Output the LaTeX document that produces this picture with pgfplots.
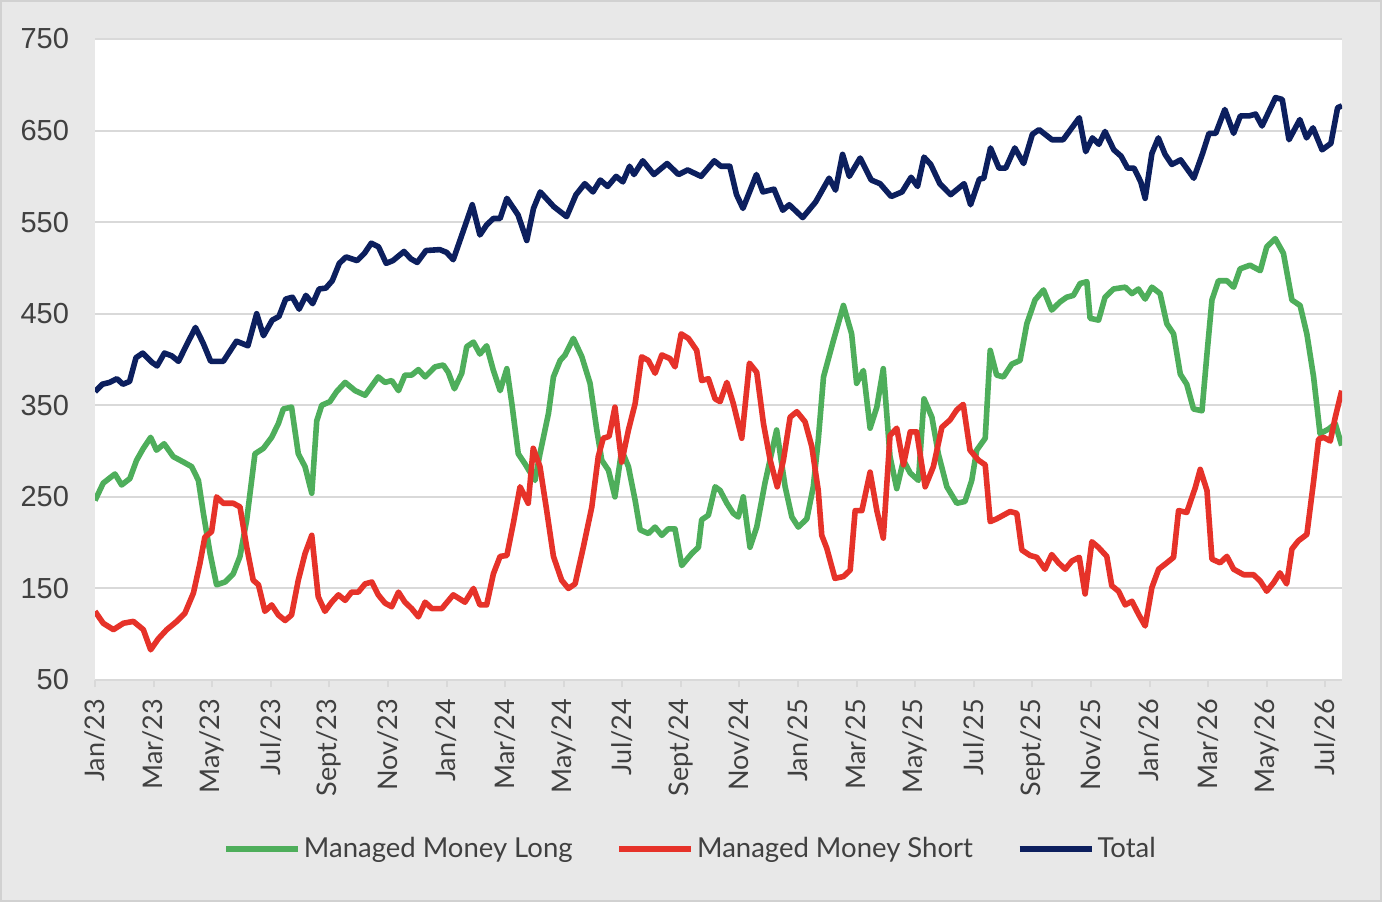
\documentclass[border=0pt]{standalone}
\usepackage{pgfplots}
\usepackage{pgfplotstable}
\pgfplotsset{compat=1.18}
\usepackage{fontspec}
\setmainfont{Lato}
\newfontfamily\arialf{Liberation Sans}
\definecolor{mmlong}{HTML}{4EAE5B}
\definecolor{mmshort}{HTML}{E63229}
\definecolor{mmtotal}{HTML}{0C1F5E}
\definecolor{bgray}{HTML}{E8E8E8}
\definecolor{gridg}{HTML}{D9D9D9}
\definecolor{txt}{HTML}{404040}

\pgfplotstableread{
m v
0 365
0.25 373
0.5 375
0.75 379
0.95 373
1.18 376
1.4 402
1.63 407
1.94 397
2.12 393
2.37 407
2.62 404
2.85 398
3.16 418
3.43 435
3.69 418
3.95 398
4.38 398
4.83 420
5.22 415
5.52 450
5.75 426
6.05 443
6.28 447
6.51 466
6.74 468
6.97 455
7.2 470
7.43 461
7.65 477
7.88 478
8.1 486
8.34 505
8.57 512
8.95 508
9.2 516
9.43 527
9.68 523
9.94 505
10.17 508
10.55 518
10.78 510
11.0 506
11.3 519
11.77 520
12.0 517
12.23 509
12.6 543
12.88 569
13.14 536
13.37 547
13.6 554
13.83 554
14.06 576
14.44 558
14.74 530
14.97 565
15.2 583
15.66 567
16.1 556
16.42 580
16.72 592
17.0 583
17.25 596
17.5 589
17.79 600
18.02 594
18.25 611
18.4 602
18.7 617
19.08 602
19.53 614
19.92 602
20.23 607
20.69 600
21.14 617
21.37 611
21.67 611
21.9 580
22.12 565
22.58 602
22.8 583
23.18 586
23.48 563
23.7 569
24.16 555
24.6 572
25.06 598
25.28 585
25.52 624
25.75 600
26.12 620
26.5 596
26.8 592
27.18 578
27.55 583
27.86 599
28.08 589
28.3 621
28.53 613
28.84 592
29.21 580
29.67 592
29.89 569
30.19 597
30.34 598
30.57 631
30.86 609
31.09 609
31.4 631
31.7 614
32.0 646
32.23 651
32.67 640
33.05 640
33.6 664
33.82 627
34.05 642
34.27 635
34.48 649
34.78 629
35.03 622
35.25 609
35.47 609
35.7 594
35.85 576
36.08 625
36.3 642
36.53 624
36.76 613
37.06 618
37.51 598
37.81 625
38.03 647
38.26 647
38.57 673
38.87 647
39.1 666
39.4 666
39.62 668
39.84 655
40.3 686
40.53 684
40.76 640
41.13 662
41.36 642
41.58 653
41.89 629
42.19 636
42.42 675
42.57 677
}\totaldata

\pgfplotstableread{
m v
0 246
0.28 265
0.68 275
0.91 263
1.19 270
1.42 290
1.65 303
1.9 315
2.1 301
2.36 308
2.67 294
3.02 288
3.3 283
3.53 268
3.7 232
3.93 188
4.15 154
4.44 157
4.72 166
4.95 185
5.18 225
5.46 297
5.75 303
6.03 315
6.26 330
6.43 346
6.71 348
6.94 297
7.17 283
7.4 254
7.57 333
7.74 350
8.02 354
8.25 365
8.54 375
8.88 366
9.22 361
9.67 381
9.9 375
10.13 377
10.36 366
10.58 383
10.81 383
11.04 389
11.27 381
11.61 392
11.89 394
12.06 386
12.27 368
12.52 385
12.69 414
12.92 419
13.14 406
13.37 415
13.6 388
13.83 366
14.06 390
14.23 352
14.45 297
14.68 286
15.02 268
15.19 297
15.48 341
15.65 381
15.88 399
16.05 405
16.33 423
16.62 403
16.9 374
17.13 323
17.3 290
17.53 279
17.75 250
17.98 301
18.21 283
18.44 246
18.61 214
18.89 210
19.12 217
19.35 208
19.57 215
19.8 215
20.03 175
20.37 188
20.6 195
20.71 225
20.94 230
21.17 261
21.34 257
21.57 243
21.79 232
21.96 228
22.13 250
22.36 195
22.59 217
22.87 265
23.27 323
23.56 261
23.79 228
24.01 217
24.3 226
24.52 261
24.69 312
24.87 381
25.21 421
25.55 459
25.83 428
26.0 374
26.23 388
26.46 325
26.69 348
26.91 390
27.14 294
27.37 259
27.6 290
27.83 276
28.11 268
28.3 357
28.57 337
28.79 297
29.08 261
29.42 243
29.7 245
29.93 268
30.1 301
30.39 314
30.56 410
30.78 383
31.01 381
31.3 395
31.58 399
31.81 439
32.09 465
32.38 476
32.66 454
32.95 463
33.17 468
33.4 470
33.63 483
33.86 485
33.97 445
34.26 443
34.48 468
34.77 477
35.17 479
35.4 472
35.62 477
35.85 466
36.08 479
36.36 472
36.59 439
36.82 428
37.05 384
37.27 373
37.5 346
37.79 344
37.96 406
38.13 465
38.35 486
38.64 486
38.87 479
39.09 499
39.43 503
39.78 497
40.0 523
40.29 532
40.57 516
40.86 465
41.14 459
41.37 428
41.6 381
41.82 319
42.11 324
42.34 330
42.56 306
}\longdata

\pgfplotstableread{
m v
0 125
0.28 112
0.63 105
0.97 112
1.31 114
1.65 105
1.9 83
2.16 95
2.45 105
2.79 114
3.07 123
3.36 145
3.58 177
3.75 206
3.98 212
4.15 250
4.38 243
4.72 243
4.95 239
5.18 195
5.4 159
5.58 154
5.8 125
6.03 132
6.26 121
6.49 115
6.71 121
6.94 159
7.17 188
7.4 208
7.62 141
7.85 125
8.08 135
8.31 143
8.54 137
8.76 146
8.99 146
9.22 155
9.45 157
9.67 143
9.9 134
10.13 130
10.36 146
10.58 135
10.81 128
11.04 119
11.27 135
11.5 128
11.84 128
12.23 143
12.63 135
12.92 150
13.14 132
13.37 132
13.6 166
13.83 185
14.06 186
14.28 221
14.51 261
14.79 243
14.96 303
15.19 283
15.42 235
15.65 185
15.93 159
16.16 150
16.39 155
16.67 195
16.96 239
17.18 294
17.35 314
17.55 316
17.75 348
17.98 288
18.21 323
18.44 352
18.66 403
18.89 399
19.12 385
19.35 405
19.63 401
19.8 392
20.01 428
20.26 423
20.54 410
20.71 377
20.94 379
21.17 357
21.34 354
21.57 375
21.79 352
22.08 314
22.34 396
22.59 386
22.82 330
23.05 290
23.29 261
23.5 290
23.73 337
23.96 343
24.24 332
24.47 305
24.69 257
24.81 208
24.98 194
25.26 161
25.55 163
25.78 170
25.95 235
26.18 235
26.46 277
26.69 235
26.91 205
27.14 317
27.37 325
27.6 285
27.83 321
28.05 321
28.34 261
28.62 283
28.91 326
29.19 334
29.42 345
29.64 351
29.87 301
30.16 290
30.39 285
30.56 223
30.78 226
31.24 234
31.47 232
31.64 192
31.92 186
32.15 184
32.43 171
32.66 187
32.89 178
33.12 171
33.35 180
33.6 184
33.8 144
34.03 201
34.25 195
34.54 185
34.71 153
34.94 147
35.17 132
35.4 136
35.62 122
35.85 109
36.08 151
36.31 171
36.59 178
36.82 184
36.99 235
37.27 233
37.56 260
37.73 280
37.96 257
38.13 182
38.41 178
38.64 185
38.87 171
39.21 165
39.55 165
39.78 158
40.0 147
40.23 156
40.45 167
40.68 155
40.86 193
41.08 202
41.37 209
41.6 267
41.77 313
41.94 315
42.17 311
42.34 337
42.56 366
}\shortdata

\begin{document}
\begin{tikzpicture}[x=1pt,y=1pt]
\fill[bgray] (0,0) rectangle (691,451);
\draw[black!18, line width=1pt] (0.5,0.5) rectangle (690.5,450.5);
\begin{axis}[
  at={(47.5pt,111pt)}, anchor=south west,
  scale only axis, width=623.5pt, height=320.5pt,
  xmin=0, xmax=42.57, ymin=50, ymax=750,
  axis background/.style={fill=white},
  axis lines*=left,
  x axis line style={draw=gridg, line width=1pt, -},
  y axis line style={draw=none},
  ytick={50,150,...,750},
  ymajorgrids,
  grid style={gridg, line width=1pt},
  xtick={0,2,...,42},
  xticklabels={Jan/23,Mar/23,May/23,Jul/23,Sept/23,Nov/23,Jan/24,Mar/24,May/24,Jul/24,Sept/24,Nov/24,Jan/25,Mar/25,May/25,Jul/25,Sept/25,Nov/25,Jan/26,Mar/26,May/26,Jul/26},
  tick align=outside,
  major tick length=3.5pt,
  xtick style={draw=gridg, line width=1pt},
  ytick style={draw=none},
  x tick label style={rotate=90, anchor=east, font=\fontsize{13.5}{15}\selectfont, text=txt},
  xticklabel shift=2.5pt,
  y tick label style={font=\arialf\fontsize{14.5}{16}\selectfont, text=txt, xshift=-6pt},
  /pgf/number format/assume math mode=true,
  legend style={at={(0.478,-0.2637)}, anchor=center, draw=none, fill=none,
    legend columns=3, font=\fontsize{13.75}{16}\selectfont, text=txt,
    nodes={inner sep=1.5pt},
    /tikz/every even column/.append style={column sep=20.5pt}},
  legend image code/.code={\draw[#1,line width=2.8pt] (0pt,0pt) -- (36pt,0pt);},
]
\addplot[mmlong, line width=2.8pt, line join=round] table[x=m,y=v] {\longdata};
\addlegendentry{Managed Money Long}
\addplot[mmshort, line width=2.8pt, line join=round] table[x=m,y=v] {\shortdata};
\addlegendentry{Managed Money Short}
\addplot[mmtotal, line width=2.8pt, line join=round] table[x=m,y=v] {\totaldata};
\addlegendentry{Total}
\end{axis}
\end{tikzpicture}
\end{document}
